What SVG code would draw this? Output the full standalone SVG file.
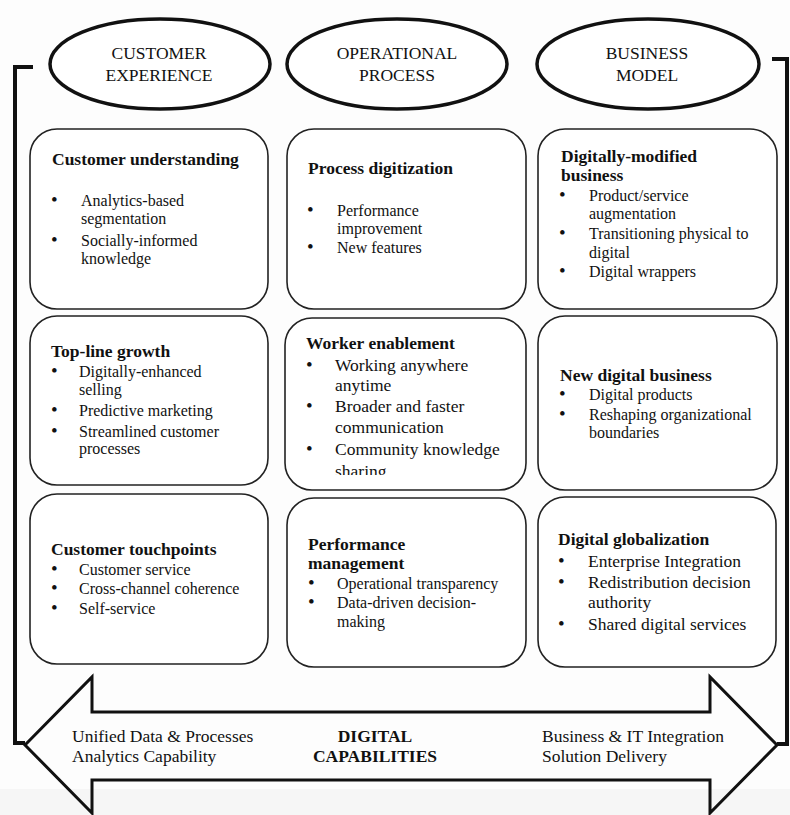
<svg xmlns="http://www.w3.org/2000/svg" width="790" height="815" viewBox="0 0 790 815">
<style>
.bg{fill:#fdfdfd}
.box{fill:#fff;stroke:#222;stroke-width:1.6}
.ell{fill:#fff;stroke:#111;stroke-width:3.5}
.ln{fill:none;stroke:#111;stroke-width:4;stroke-linejoin:miter}
.arrow{fill:none;stroke:#111;stroke-width:3;stroke-linejoin:miter}
text{font-family:"Liberation Serif","Times New Roman",serif;fill:#111}
.h{font-weight:bold;font-size:17.5px}
.s{font-size:16px}
.m{font-size:17.5px}
.bu{font-size:19px}
.c{font-size:17.5px;text-anchor:middle}
.cb{font-size:17.5px;text-anchor:middle;font-weight:bold}
</style>
<defs>
<clipPath id="clipWE"><rect x="285" y="318" width="241" height="157"/></clipPath>
</defs>
<rect class="bg" x="0" y="0" width="790" height="815"/>
<rect x="0" y="789" width="790" height="26" fill="#f6f6f6"/>

<g id="connectors">
<polyline class="ln" points="33,67 15,67 15,743 25,743"/>
<polyline class="ln" points="772,59 787,59 787,744 777,744"/>
</g>

<g id="digital-capabilities">
<polygon class="arrow" points="25,745 92,677 92,712 710,712 710,677 777,745 710,813 710,780 92,780 92,813"/>
<text class="m" x="72" y="742">Unified Data &amp; Processes</text>
<text class="m" x="72" y="762">Analytics Capability</text>
<text class="cb" x="375" y="742">DIGITAL</text>
<text class="cb" x="375" y="762">CAPABILITIES</text>
<text class="m" x="542" y="742">Business &amp; IT Integration</text>
<text class="m" x="542" y="762">Solution Delivery</text>
</g>

<g id="customer-experience">
<ellipse class="ell" cx="160" cy="64" rx="110" ry="45"/>
<text class="c" x="159" y="59">CUSTOMER</text>
<text class="c" x="159" y="81">EXPERIENCE</text>
</g>
<g id="operational-process">
<ellipse class="ell" cx="397" cy="64" rx="110" ry="45"/>
<text class="c" x="397" y="59">OPERATIONAL</text>
<text class="c" x="397" y="81">PROCESS</text>
</g>
<g id="business-model">
<ellipse class="ell" cx="648" cy="64" rx="111" ry="45"/>
<text class="c" x="647" y="59">BUSINESS</text>
<text class="c" x="647" y="81">MODEL</text>
</g>

<g id="customer-understanding">
<rect class="box" x="30" y="129" width="238" height="180" rx="27"/>
<text class="h" x="52" y="165">Customer understanding</text>
<text class="bu" x="51" y="206">•</text><text class="s" x="81" y="206">Analytics-based</text>
<text class="s" x="81" y="224">segmentation</text>
<text class="bu" x="51" y="246">•</text><text class="s" x="81" y="246">Socially-informed</text>
<text class="s" x="81" y="264">knowledge</text>
</g>

<g id="process-digitization">
<rect class="box" x="287" y="129" width="239" height="180" rx="27"/>
<text class="h" x="308" y="174">Process digitization</text>
<text class="bu" x="307" y="216">•</text><text class="s" x="337" y="216">Performance</text>
<text class="s" x="337" y="234">improvement</text>
<text class="bu" x="307" y="253">•</text><text class="s" x="337" y="253">New features</text>
</g>

<g id="digitally-modified-business">
<rect class="box" x="538" y="129" width="239" height="180" rx="27"/>
<text class="h" x="561" y="162">Digitally-modified</text>
<text class="h" x="561" y="181">business</text>
<text class="bu" x="559" y="201">•</text><text class="s" x="589" y="201">Product/service</text>
<text class="s" x="589" y="219">augmentation</text>
<text class="bu" x="559" y="239">•</text><text class="s" x="589" y="239">Transitioning physical to</text>
<text class="s" x="589" y="258">digital</text>
<text class="bu" x="559" y="277">•</text><text class="s" x="589" y="277">Digital wrappers</text>
</g>

<g id="top-line-growth">
<rect class="box" x="30" y="316" width="238" height="169" rx="27"/>
<text class="h" x="51" y="357">Top-line growth</text>
<text class="bu" x="51" y="377">•</text><text class="s" x="79" y="377">Digitally-enhanced</text>
<text class="s" x="79" y="395">selling</text>
<text class="bu" x="51" y="416">•</text><text class="s" x="79" y="416">Predictive marketing</text>
<text class="bu" x="51" y="437">•</text><text class="s" x="79" y="437">Streamlined customer</text>
<text class="s" x="79" y="454">processes</text>
</g>

<g id="worker-enablement">
<rect class="box" x="285" y="318" width="241" height="172" rx="27"/>
<text class="h" x="306" y="349">Worker enablement</text>
<g clip-path="url(#clipWE)">
<text class="bu" x="306" y="371">•</text><text class="m" x="335" y="371">Working anywhere</text>
<text class="m" x="335" y="391">anytime</text>
<text class="bu" x="306" y="412">•</text><text class="m" x="335" y="412">Broader and faster</text>
<text class="m" x="335" y="433">communication</text>
<text class="bu" x="306" y="455">•</text><text class="m" x="335" y="455">Community knowledge</text>
<text class="m" x="335" y="477">sharing</text>
</g>
</g>

<g id="new-digital-business">
<rect class="box" x="538" y="316" width="239" height="174" rx="27"/>
<text class="h" x="560" y="381">New digital business</text>
<text class="bu" x="559" y="400">•</text><text class="s" x="589" y="400">Digital products</text>
<text class="bu" x="559" y="420">•</text><text class="s" x="589" y="420">Reshaping organizational</text>
<text class="s" x="589" y="438">boundaries</text>
</g>

<g id="customer-touchpoints">
<rect class="box" x="30" y="494" width="238" height="170" rx="27"/>
<text class="h" x="51" y="555">Customer touchpoints</text>
<text class="bu" x="51" y="575">•</text><text class="s" x="79" y="575">Customer service</text>
<text class="bu" x="51" y="594">•</text><text class="s" x="79" y="594">Cross-channel coherence</text>
<text class="bu" x="51" y="614">•</text><text class="s" x="79" y="614">Self-service</text>
</g>

<g id="performance-management">
<rect class="box" x="287" y="498" width="239" height="169" rx="27"/>
<text class="h" x="308" y="550">Performance</text>
<text class="h" x="308" y="569">management</text>
<text class="bu" x="308" y="589">•</text><text class="s" x="337" y="589">Operational transparency</text>
<text class="bu" x="308" y="608">•</text><text class="s" x="337" y="608">Data-driven decision-</text>
<text class="s" x="337" y="627">making</text>
</g>

<g id="digital-globalization">
<rect class="box" x="538" y="497" width="238" height="170" rx="27"/>
<text class="h" x="558" y="545">Digital globalization</text>
<text class="bu" x="558" y="567">•</text><text class="m" x="588" y="567">Enterprise Integration</text>
<text class="bu" x="558" y="588">•</text><text class="m" x="588" y="588">Redistribution decision</text>
<text class="m" x="588" y="608">authority</text>
<text class="bu" x="558" y="630">•</text><text class="m" x="588" y="630">Shared digital services</text>
</g>
</svg>
